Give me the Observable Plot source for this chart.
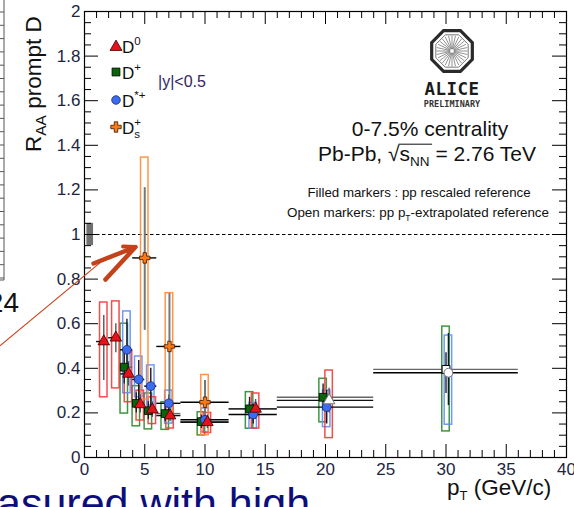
<!DOCTYPE html>
<html><head><meta charset="utf-8">
<script src="https://cdn.jsdelivr.net/npm/d3@7"></script>
<script src="https://cdn.jsdelivr.net/npm/@observablehq/plot@0.6"></script>
<style>
body{margin:0;background:#fff;font-family:"Liberation Sans",Arial,sans-serif;}
#wrap{position:relative;width:574px;height:507px;overflow:hidden;background:#fff;}
#wrap svg text{white-space:pre;}
</style></head><body><div id="wrap"></div>
<script>
// ---------- data ----------
const seriesNames = ["D0", "D+", "D*+", "Ds+"];

// D0 (red triangles)
const d0X      = [1.6, 2.6, 3.65, 4.63, 5.63, 7.1, 10.2, 14.2, 20.3];
const d0BinLo  = [1, 2, 3, 4, 5, 6, 8, 12, 16];
const d0BinHi  = [2, 3, 4, 5, 6, 8, 12, 16, 24];
const d0Y      = [0.52, 0.537, 0.375, 0.238, 0.215, 0.188, 0.158, 0.218, 0.256];
const d0StatLo = [0.345, 0.47, 0.32, 0.20, 0.18, 0.16, 0.13, 0.17, 0.20];
const d0StatHi = [0.637, 0.60, 0.43, 0.28, 0.25, 0.22, 0.19, 0.26, 0.31];
const d0SysLo  = [0.27, 0.31, 0.248, 0.166, 0.15, 0.13, 0.11, 0.13, 0.087];
const d0SysHi  = [0.695, 0.70, 0.477, 0.30, 0.27, 0.233, 0.20, 0.287, 0.39];
const d0Open   = [0, 0, 0, 0, 0, 0, 0, 0, 1];

// D+ (green squares)
const dpX      = [3.3, 4.3, 5.3, 6.7, 9.7, 13.7, 19.8, 30.0];
const dpBinLo  = [3, 4, 5, 6, 8, 12, 16, 24];
const dpBinHi  = [4, 5, 6, 8, 12, 16, 24, 36];
const dpY      = [0.405, 0.243, 0.21, 0.197, 0.161, 0.218, 0.27, 0.395];
const dpStatLo = [0.33, 0.20, 0.17, 0.16, 0.13, 0.17, 0.21, 0.287];
const dpStatHi = [0.48, 0.29, 0.25, 0.235, 0.19, 0.27, 0.33, 0.47];
const dpSysLo  = [0.197, 0.14, 0.126, 0.124, 0.099, 0.129, 0.158, 0.117];
const dpSysHi  = [0.60, 0.32, 0.287, 0.248, 0.203, 0.293, 0.353, 0.587];
const dpOpen   = [0, 0, 0, 0, 0, 0, 0, 1];

// D*+ (blue circles)
const dsX      = [3.52, 4.5, 5.5, 7.0, 10.0, 14.0, 20.1, 30.2];
const dsBinLo  = [3, 4, 5, 6, 8, 12, 16, 24];
const dsBinHi  = [4, 5, 6, 8, 12, 16, 24, 36];
const dsY      = [0.483, 0.35, 0.32, 0.243, 0.169, 0.193, 0.226, 0.38];
const dsStatLo = [0.36, 0.25, 0.22, 0.20, 0.14, 0.15, 0.15, 0.233];
const dsStatHi = [0.62, 0.435, 0.40, 0.28, 0.20, 0.24, 0.30, 0.556];
const dsSysLo  = [0.288, 0.27, 0.233, 0.152, 0.113, 0.129, 0.136, 0.147];
const dsSysHi  = [0.655, 0.453, 0.413, 0.30, 0.22, 0.245, 0.30, 0.547];
const dsOpen   = [0, 0, 0, 0, 0, 0, 0, 1];

// Ds+ (orange crosses)
const dssX      = [5.0, 7.05, 10.0];
const dssBinLo  = [4, 6, 8];
const dssBinHi  = [6, 8, 12];
const dssY      = [0.895, 0.498, 0.248];
const dssStatLo = [0.57, 0.26, 0.15];
const dssStatHi = [1.21, 0.735, 0.345];
const dssSysLo  = [0.26, 0.20, 0.10];
const dssSysHi  = [1.345, 0.737, 0.37];
const dssOpen   = [0, 0, 0];

const normUnc = [0.05];           // normalisation uncertainty box at R_AA = 1
const refLine = [1];              // R_AA = 1
const xMajor = [0, 5, 10, 15, 20, 25, 30, 35, 40];
const yMajor = [0, 0.2, 0.4, 0.6, 0.8, 1, 1.2, 1.4, 1.6, 1.8, 2];

// slide annotation (red pen) in data units
const penLine  = [[-7.0, 0.502], [1.3, 0.874]];
const penArrow = [[0.75, 0.87], [4.23, 0.944], [1.74, 0.798]];
const penHead  = [[3.2, 0.946], [4.23, 0.944]];

// ---------- styles ----------
const style = {
  "D0":  {symbol: "triangle", fill: "#e5121c", stroke: "#3a0000", box: "#f23a3a", stat: "#555", xerr: "#111", r: 4.3},
  "D+":  {symbol: "square",   fill: "#0a650a", stroke: "#000",    box: "#2b8a2b", stat: "#222", xerr: "#666", r: 4.4},
  "D*+": {symbol: "circle",   fill: "#3b6cf0", stroke: "#1a2a70", box: "#5f8ef6", stat: "#14143c", xerr: "#000", r: 4.4},
  "Ds+": {symbol: "cross",    fill: "#ff7a12", stroke: "#3a1800", box: "#ff8a36", stat: "#777", xerr: "#000", r: 4.4}
};

function build(name, X, lo, hi, Y, sLo, sHi, yLo, yHi, open) {
  return X.map((x, i) => ({series: name, x, lo: lo[i], hi: hi[i], y: Y[i],
    statLo: sLo[i], statHi: sHi[i], sysLo: yLo[i], sysHi: yHi[i], open: !!open[i]}));
}
const rows = {
  "D0":  build("D0", d0X, d0BinLo, d0BinHi, d0Y, d0StatLo, d0StatHi, d0SysLo, d0SysHi, d0Open),
  "D+":  build("D+", dpX, dpBinLo, dpBinHi, dpY, dpStatLo, dpStatHi, dpSysLo, dpSysHi, dpOpen),
  "D*+": build("D*+", dsX, dsBinLo, dsBinHi, dsY, dsStatLo, dsStatHi, dsSysLo, dsSysHi, dsOpen),
  "Ds+": build("Ds+", dssX, dssBinLo, dssBinHi, dssY, dssStatLo, dssStatHi, dssSysLo, dssSysHi, dssOpen)
};

const W = 574, H = 507, mL = 84, mR = 8, mT = 11, mB = 50;
const innerW = W - mL - mR, innerH = H - mT - mB;
const xMinor = d3.range(0, 41).filter(v => v % 5 !== 0);
const yMinor = d3.range(0, 41).filter(v => v % 4 !== 0).map(v => v / 20);

const boxOrder = ["D+", "D*+", "D0", "Ds+"];
const marks = [
  Plot.ruleY(refLine, {y: d => d, stroke: "#000", strokeWidth: 1, strokeDasharray: "3.5,2.5"}),
  Plot.rect(normUnc, {x1: 0.2, x2: 0.75, y1: d => 1 - d, y2: d => 1 + d, fill: "#707070"})
];
for (const s of boxOrder) {
  marks.push(Plot.rect(rows[s], {x1: d => d.x - 0.31, x2: d => d.x + 0.31, y1: "sysLo", y2: "sysHi",
    fill: "none", stroke: style[s].box, strokeWidth: 1.5, strokeOpacity: 0.9}));
}
for (const s of boxOrder) {
  marks.push(Plot.ruleY(rows[s], {x1: "lo", x2: "hi", y: "y", stroke: style[s].xerr, strokeWidth: 1.4}));
  marks.push(Plot.ruleX(rows[s], {x: "x", y1: "statLo", y2: "statHi", stroke: style[s].stat, strokeWidth: s === "Ds+" ? 2 : 1.4}));
}
for (const s of boxOrder) {
  const st = style[s];
  marks.push(Plot.dot(rows[s].filter(d => !d.open), {x: "x", y: "y", symbol: st.symbol, r: st.r, fill: st.fill, stroke: st.stroke, strokeWidth: 0.8}));
  marks.push(Plot.dot(rows[s].filter(d => d.open), {x: "x", y: "y", symbol: st.symbol, r: st.r, fill: "#fff", stroke: s === "D+" ? "#000" : "#777", strokeWidth: 1}));
}
// ticks (inward) on all four sides
marks.push(
  Plot.tickX(xMajor, {x: d => d, insetTop: innerH - 13, stroke: "#000"}),
  Plot.tickX(xMajor, {x: d => d, insetBottom: innerH - 13, stroke: "#000"}),
  Plot.tickX(xMinor, {x: d => d, insetTop: innerH - 7, stroke: "#000"}),
  Plot.tickX(xMinor, {x: d => d, insetBottom: innerH - 7, stroke: "#000"}),
  Plot.tickY(yMajor, {y: d => d, insetRight: innerW - 14, stroke: "#000"}),
  Plot.tickY(yMajor, {y: d => d, insetLeft: innerW - 14, stroke: "#000"}),
  Plot.tickY(yMinor, {y: d => d, insetRight: innerW - 7, stroke: "#000"}),
  Plot.tickY(yMinor, {y: d => d, insetLeft: innerW - 7, stroke: "#000"}),
  Plot.axisX({ticks: xMajor, tickSize: 0, tickPadding: 5, label: null, color: "#1c2540"}),
  Plot.axisY({ticks: yMajor, tickSize: 0, tickPadding: 4, label: null, color: "#1c2540", tickFormat: d => String(+d.toFixed(1))}),
  Plot.frame({stroke: "#000", strokeWidth: 1.2}),
  Plot.line(penLine, {x: d => d[0], y: d => d[1], stroke: "#c9461c", strokeWidth: 1.2}),
  Plot.line(penArrow, {x: d => d[0], y: d => d[1], stroke: "#c4421a", strokeWidth: 4.5, strokeLinecap: "round", strokeLinejoin: "round"}),
  Plot.line(penHead, {x: d => d[0], y: d => d[1], stroke: "#c4421a", strokeWidth: 4, strokeLinecap: "round"})
);

const chart = Plot.plot({
  width: W, height: H, marginLeft: mL, marginRight: mR, marginTop: mT, marginBottom: mB,
  x: {domain: [0, 40]}, y: {domain: [0, 2]},
  style: {fontFamily: "Liberation Sans, Arial, sans-serif", fontSize: "17px", background: "transparent", overflow: "visible"},
  marks
});
document.getElementById("wrap").appendChild(chart);

// ---------- annotations ----------
const svg = d3.select(chart);
function rich(x, y, parts, opt = {}) {
  const g = svg.append("g").attr("fill", opt.fill || "#111").attr("text-anchor", "start")
    .attr("font-family", opt.family || "Liberation Sans, Arial, sans-serif");
  let cx = 0, lastX = 0;
  for (const p of parts) {
    const px = p.stack ? lastX : cx;
    const t = g.append("text").attr("x", px).attr("y", p.dy || 0).attr("text-anchor", "start")
      .attr("font-size", p.size || opt.size || 17).text(p.t);
    if (p.weight) t.attr("font-weight", p.weight);
    const w = t.node().getComputedTextLength();
    if (p.overline) {
      const s = p.size || opt.size || 17;
      g.append("line").attr("x1", px - 1).attr("x2", px + w + (p.overExtra || 0))
        .attr("y1", (p.dy || 0) - s * 0.8).attr("y2", (p.dy || 0) - s * 0.8)
        .attr("stroke", opt.fill || "#111").attr("stroke-width", 1);
    }
    if (!p.stack) { lastX = px; cx = Math.max(cx, px + w); }
    else { cx = Math.max(cx, px + w); }
  }
  let ox = x;
  if (opt.anchor === "middle") ox = x - cx / 2;
  if (opt.anchor === "end") ox = x - cx;
  g.attr("transform", opt.rotate ? `translate(${x},${y}) rotate(${opt.rotate})` : `translate(${ox},${y})`);
  return g;
}

// y-axis title
rich(41, 152, [{t: "R", size: 22.5}, {t: "AA", size: 15.5, dy: 5}, {t: " prompt D", size: 22.5}], {rotate: -90, fill: "#111"});
// x-axis title
rich(447, 495, [{t: "p", size: 22.5}, {t: "T", size: 13, dy: 5}, {t: " (GeV/c)", size: 22.5}], {fill: "#111"});

// legend
const legend = [
  {s: "D0", y: 46, parts: [{t: "D"}, {t: "0", size: 11.5, dy: -8}]},
  {s: "D+", y: 72, parts: [{t: "D"}, {t: "+", size: 11.5, dy: -8}]},
  {s: "D*+", y: 100, parts: [{t: "D"}, {t: "*+", size: 11.5, dy: -8}]},
  {s: "Ds+", y: 127, parts: [{t: "D"}, {t: "+", size: 11.5, dy: -8}, {t: "s", size: 11.5, dy: 4, stack: true}]}
];
for (const L of legend) {
  const st = style[L.s];
  const sym = {triangle: d3.symbolTriangle, square: d3.symbolSquare, circle: d3.symbolCircle, cross: d3.symbolCross}[st.symbol];
  const area = L.s === "D0" ? 62 : L.s === "D+" ? 62 : L.s === "D*+" ? 58 : 60;
  svg.append("path").attr("d", d3.symbol(sym, area)()).attr("transform", `translate(116,${L.y + (L.s === "D0" ? 1 : 0)})`)
    .attr("fill", st.fill).attr("stroke", st.stroke).attr("stroke-width", 0.8);
  rich(122, L.y + 7, L.parts, {size: 17, fill: "#111"});
}
rich(158, 87, [{t: "|y|<0.5", size: 16}], {fill: "#33245e"});

// ALICE logo
const lg = svg.append("g").attr("transform", "translate(452,51)");
const oct = d3.range(8).map(i => { const a = Math.PI / 8 + i * Math.PI / 4; return [22 * Math.cos(a), 22 * Math.sin(a)]; });
lg.append("path").attr("d", "M" + oct.join("L") + "Z").attr("fill", "#fff").attr("stroke", "#2a2a2a").attr("stroke-width", 3.2);
const oct2 = d3.range(8).map(i => { const a = Math.PI / 8 + i * Math.PI / 4; return [17.5 * Math.cos(a), 17.5 * Math.sin(a)]; });
lg.append("path").attr("d", "M" + oct2.join("L") + "Z").attr("fill", "none").attr("stroke", "#555").attr("stroke-width", 0.8);
for (let i = 0; i < 28; i++) {
  const a = i * 2 * Math.PI / 28;
  lg.append("line").attr("x1", 2 * Math.cos(a)).attr("y1", 2 * Math.sin(a))
    .attr("x2", 15.5 * Math.cos(a)).attr("y2", 15.5 * Math.sin(a)).attr("stroke", "#777").attr("stroke-width", 0.8);
}
svg.append("text").attr("x", 452).attr("y", 95).attr("text-anchor", "middle").attr("font-size", 17.5)
  .attr("font-weight", "bold").attr("font-family", "DejaVu Sans Mono, monospace").attr("letter-spacing", 0.5).attr("fill", "#1a1a1a").text("ALICE");
svg.append("text").attr("x", 452).attr("y", 107).attr("text-anchor", "middle").attr("font-size", 8.5)
  .attr("font-weight", "bold").attr("font-family", "DejaVu Sans Mono, monospace").attr("fill", "#333").text("PRELIMINARY");

rich(430, 136, [{t: "0-7.5% centrality", size: 21}], {anchor: "middle", fill: "#111"});
rich(427, 161, [{t: "Pb-Pb, ", size: 21}, {t: "√", size: 21}, {t: "s", size: 21, overline: true, overExtra: 22}, {t: "NN", size: 13.5, dy: 5}, {t: " = 2.76 TeV", size: 21}], {anchor: "middle", fill: "#111"});
rich(419, 197, [{t: "Filled markers : pp rescaled reference", size: 13.3}], {anchor: "middle", fill: "#111"});
rich(418, 217, [{t: "Open markers: pp p", size: 13.4}, {t: "T", size: 8.5, dy: 3.5}, {t: "-extrapolated reference", size: 13.4}], {anchor: "middle", fill: "#111"});

// slide remnants around the figure
const rem = svg.append("g").attr("stroke", "#555").attr("stroke-width", 1);
rem.append("line").attr("x1", 4).attr("x2", 4).attr("y1", 0).attr("y2", 280);
rem.append("line").attr("x1", 0).attr("x2", 4).attr("y1", 280).attr("y2", 280);
for (let y = 12; y < 280; y += 13.3) rem.append("line").attr("x1", 0).attr("x2", 4).attr("y1", y).attr("y2", y);
svg.append("text").attr("x", 19).attr("y", 312).attr("text-anchor", "end").attr("font-size", 28).attr("fill", "#111").text("24");
svg.append("text").attr("x", -3).attr("y", 518).attr("text-anchor", "start").attr("font-size", 43).attr("fill", "#0e0e7a")
  .attr("font-family", "Liberation Sans, Arial, sans-serif").text("asured with high");
</script></body></html>
